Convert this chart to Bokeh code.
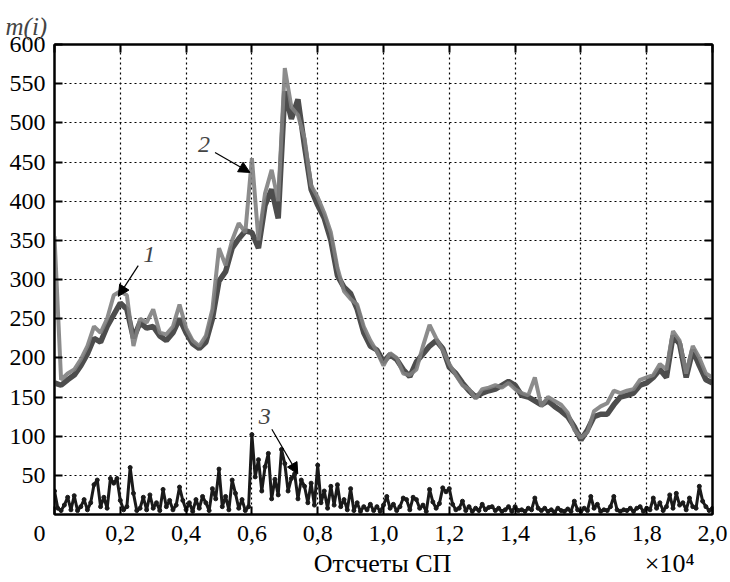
from bokeh.plotting import figure
from bokeh.models import (FixedTicker, LinearAxis, Label, Arrow, NormalHead, Range1d)
from bokeh.embed import file_html
from bokeh.resources import INLINE

# ---- data (sample index) ----
x_main = list(range(0, 20001, 200))
series1 = [168, 165, 172, 178, 190, 205, 225, 220, 240, 255,
           270, 262, 225, 245, 238, 240, 228, 222, 232, 250,
           232, 218, 212, 220, 250, 298, 310, 340, 352, 362,
           360, 340, 395, 415, 378, 540, 505, 530, 470, 415,
           395, 378, 350, 305, 290, 282, 262, 232, 215, 210,
           195, 204, 198, 185, 176, 195, 205, 215, 222, 212,
           188, 180, 168, 158, 150, 155, 158, 160, 165, 170,
           165, 152, 150, 145, 140, 145, 138, 132, 125, 112,
           95, 108, 125, 128, 128, 140, 150, 152, 155, 165,
           168, 175, 185, 175, 228, 218, 175, 210, 190, 172, 168]
series2 = [355, 172, 180, 185, 198, 215, 240, 232, 250, 280,
           285, 280, 215, 250, 245, 262, 232, 230, 240, 268,
           238, 222, 215, 228, 262, 340, 318, 350, 372, 360,
           455, 350, 410, 440, 400, 570, 520, 510, 480, 420,
           405, 385, 360, 315, 285, 275, 268, 240, 222, 208,
           190, 206, 200, 180, 178, 185, 215, 242, 225, 210,
           192, 178, 165, 160, 148, 160, 162, 165, 162, 168,
           160, 155, 152, 175, 138, 150, 145, 140, 130, 108,
           98, 105, 132, 138, 142, 158, 155, 158, 160, 172,
           175, 178, 192, 185, 234, 222, 180, 215, 200, 180, 175]
x_err = list(range(0, 20001, 100))
series3 = [30, 8, 5, 12, 22, 6, 24, 5, 10, 19,
           6, 15, 38, 44, 10, 22, 8, 46, 40, 46,
           18, 6, 10, 60, 27, 5, 8, 22, 6, 25,
           8, 15, 5, 32, 10, 18, 6, 12, 35, 18,
           6, 15, 4, 19, 8, 23, 15, 5, 33, 20,
           58, 10, 23, 6, 44, 27, 8, 19, 5, 10,
           102, 48, 70, 30, 61, 78, 20, 45, 25, 83,
           65, 30, 46, 52, 20, 44, 36, 15, 40, 12,
           63, 15, 30, 8, 36, 12, 38, 10, 19, 6,
           33, 5, 15, 4, 10, 6, 13, 5, 10, 4,
           12, 23, 8, 13, 5, 10, 21, 19, 6, 22,
           19, 8, 12, 4, 32, 16, 8, 14, 34, 29,
           33, 13, 6, 8, 17, 5, 10, 4, 8, 5,
           13, 6, 9, 10, 5, 8, 4, 6, 10, 4,
           10, 5, 6, 4, 8, 6, 21, 8, 5, 8,
           4, 6, 3, 8, 5, 4, 7, 4, 17, 6,
           4, 8, 5, 23, 8, 13, 4, 6, 5, 10,
           23, 6, 4, 6, 5, 8, 4, 8, 10, 4,
           8, 6, 21, 8, 15, 5, 10, 25, 8, 27,
           12, 15, 6, 21, 10, 8, 36, 17, 10, 5, 8]

x_ticks = [0, 2000, 4000, 6000, 8000, 10000, 12000, 14000, 16000, 18000, 20000]
NB = "\u00a0"
x_tick_labels = ["0" + NB * 5, "0,2", "0,4", "0,6", "0,8", "1,0", "1,2", "1,4", "1,6", "1,8", "2,0"]
y_ticks = [50, 100, 150, 200, 250, 300, 350, 400, 450, 500, 550, 600]
x_title = "Отсчеты СП"
x_scale_note = "×10⁴"

FONT = "'Times New Roman', 'Liberation Serif', serif"
FS = "24px"

p = figure(width=728, height=580, output_backend="svg", toolbar_location=None,
           x_range=Range1d(0, 20000), y_range=Range1d(0, 600),
           min_border_left=54, min_border_top=44, min_border_right=16, min_border_bottom=62)
p.background_fill_color = "white"
p.border_fill_color = "white"
p.outline_line_color = "black"
p.outline_line_width = 2

p.title.text = "m(i)"
p.title.text_font = FONT
p.title.text_font_size = "25px"
p.title.text_font_style = "italic"
p.title.align = "left"
p.title.offset = -49
p.title.standoff = 9

xt = FixedTicker(ticks=x_ticks)
yt = FixedTicker(ticks=y_ticks)

for ax in (p.xaxis[0], p.yaxis[0]):
    ax.axis_line_width = 2
    ax.major_tick_line_width = 2
    ax.major_tick_in = 8
    ax.major_tick_out = 0
    ax.minor_tick_line_color = None
    ax.major_label_text_font = FONT
    ax.major_label_text_font_size = FS
    ax.major_label_text_color = "black"

p.xaxis.ticker = xt
p.xaxis.major_label_overrides = {t: l for t, l in zip(x_ticks, x_tick_labels)}
p.xaxis.major_label_standoff = 5
p.yaxis.ticker = yt
p.yaxis.major_label_standoff = 9

# tick marks only on the top and right edges of the box
for loc, tk in (("above", xt), ("right", yt)):
    ax = LinearAxis(ticker=tk, major_label_text_font_size="0px", major_label_text_color=None,
                    major_label_standoff=0,
                    axis_line_width=2, major_tick_line_width=2, major_tick_in=8,
                    major_tick_out=0, minor_tick_line_color=None)
    p.add_layout(ax, loc)

# second row under the x axis: axis title (centred) and the ×10⁴ multiplier
title_pos = [9970, 18700]
ax2 = LinearAxis(ticker=FixedTicker(ticks=title_pos),
                 major_label_overrides={title_pos[0]: x_title, title_pos[1]: x_scale_note},
                 axis_line_color=None, major_tick_line_color=None, minor_tick_line_color=None,
                 major_tick_in=0, major_tick_out=0, major_label_standoff=0,
                 major_label_text_font=FONT, major_label_text_font_size="26px",
                 major_label_text_color="black")
p.add_layout(ax2, "below")

p.xgrid.ticker = xt
p.ygrid.ticker = yt
for g in (p.xgrid[0], p.ygrid[0]):
    g.grid_line_color = "black"
    g.grid_line_dash = "2 3"
    g.grid_line_width = 1.2

p.line(x_main, series1, line_color="#4d4d4d", line_width=5.5)
p.line(x_main, series2, line_color="#7f7f7f", line_width=4, line_alpha=0.9)
p.line(x_err, series3, line_color="#1a1a1a", line_width=3)
p.scatter(x_err, series3, size=4, color="#1a1a1a")

# annotations
for txt, xx, yy in (("1", 2879, 331.6), ("2", 4545, 472), ("3", 6394, 125.3)):
    p.add_layout(Label(x=xx, y=yy, text=txt, text_font=FONT, text_font_size="24px",
                       text_font_style="italic", text_align="center", text_baseline="middle"))
for xs, ys, xe, ye in ((2545, 317.7, 1939, 278.5), (4879, 462, 5939, 436.7), (6606, 108.9, 7394, 51.9)):
    p.add_layout(Arrow(x_start=xs, y_start=ys, x_end=xe, y_end=ye, line_width=1.2,
                       end=NormalHead(size=11, fill_color="black", line_color="black")))

open("out.html", "w").write(file_html(p, INLINE))
